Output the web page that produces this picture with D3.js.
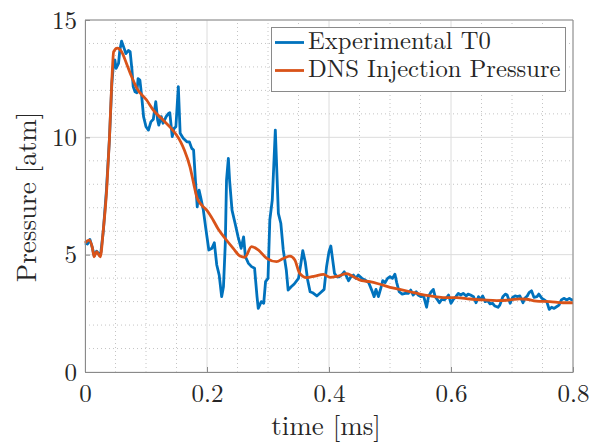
<!DOCTYPE html>
<html>
<head>
<meta charset="utf-8">
<script src="https://cdn.jsdelivr.net/npm/d3@7"></script>
<style>
  body { margin: 0; background: #fff; }
</style>
</head>
<body>
<div id="chart"></div>
<script>
// ===== DATA =====
const expTime = [0, 0.004, 0.008, 0.012, 0.015, 0.019, 0.023, 0.026, 0.030, 0.035, 0.040, 0.044, 0.047, 0.049, 0.051, 0.055, 0.057, 0.060, 0.064, 0.067, 0.071, 0.074, 0.077, 0.079, 0.082, 0.085, 0.087, 0.090, 0.093, 0.096, 0.100, 0.104, 0.108, 0.112, 0.116, 0.119, 0.121, 0.125, 0.128, 0.133, 0.137, 0.139, 0.143, 0.146, 0.149, 0.153, 0.156, 0.161, 0.167, 0.171, 0.175, 0.178, 0.181, 0.184, 0.187, 0.190, 0.194, 0.198, 0.203, 0.208, 0.212, 0.216, 0.220, 0.224, 0.227, 0.230, 0.232, 0.235, 0.237, 0.241, 0.246, 0.251, 0.256, 0.260, 0.263, 0.268, 0.273, 0.278, 0.282, 0.284, 0.289, 0.293, 0.296, 0.300, 0.303, 0.307, 0.312, 0.315, 0.317, 0.321, 0.325, 0.330, 0.333, 0.338, 0.343, 0.350, 0.354, 0.357, 0.361, 0.365, 0.369, 0.373, 0.380, 0.386, 0.392, 0.396, 0.400, 0.403, 0.405, 0.409, 0.413, 0.417, 0.422, 0.425, 0.429, 0.432, 0.436, 0.440, 0.444, 0.448, 0.454, 0.459, 0.465, 0.470, 0.474, 0.477, 0.481, 0.485, 0.488, 0.492, 0.496, 0.500, 0.504, 0.508, 0.511, 0.515, 0.520, 0.525, 0.530, 0.534, 0.538, 0.543, 0.546, 0.551, 0.555, 0.560, 0.563, 0.567, 0.571, 0.574, 0.578, 0.581, 0.585, 0.589, 0.593, 0.596, 0.600, 0.604, 0.608, 0.612, 0.616, 0.620, 0.625, 0.628, 0.632, 0.637, 0.641, 0.645, 0.649, 0.652, 0.656, 0.660, 0.664, 0.668, 0.672, 0.677, 0.680, 0.685, 0.689, 0.692, 0.697, 0.701, 0.705, 0.709, 0.713, 0.718, 0.721, 0.725, 0.728, 0.732, 0.736, 0.741, 0.744, 0.749, 0.753, 0.757, 0.761, 0.765, 0.769, 0.773, 0.777, 0.781, 0.785, 0.790, 0.794, 0.798, 0.800];
const expPressure = [5.50, 5.45, 5.65, 5.30, 4.95, 5.15, 5.00, 5.10, 6.00, 7.70, 9.90, 12.30, 13.20, 13.30, 12.94, 13.15, 13.70, 14.10, 13.80, 13.57, 13.70, 13.65, 12.87, 12.16, 11.94, 11.90, 12.50, 12.44, 11.73, 10.88, 10.45, 10.31, 10.66, 10.77, 11.52, 10.74, 10.52, 10.88, 10.60, 10.88, 11.02, 11.05, 10.03, 10.38, 10.45, 12.16, 10.17, 9.96, 9.81, 9.81, 9.53, 9.46, 8.18, 7.04, 7.75, 7.40, 6.90, 6.12, 5.20, 5.27, 5.51, 4.56, 4.13, 3.21, 3.63, 5.48, 8.18, 9.10, 8.18, 6.90, 6.34, 5.76, 5.27, 5.76, 4.91, 4.63, 4.49, 4.42, 3.21, 2.71, 3.00, 2.93, 3.85, 3.99, 6.48, 7.33, 10.31, 8.18, 6.76, 6.34, 5.20, 4.35, 3.49, 3.63, 3.75, 3.99, 4.63, 5.17, 4.70, 3.92, 3.42, 3.38, 3.24, 3.38, 3.52, 4.49, 5.13, 5.37, 4.98, 4.20, 4.06, 4.06, 4.17, 4.27, 4.06, 3.89, 4.06, 4.13, 3.99, 4.13, 3.99, 3.92, 3.81, 3.49, 3.21, 3.52, 3.21, 3.57, 3.89, 3.81, 3.99, 4.06, 3.99, 4.17, 3.81, 3.42, 3.32, 3.35, 3.35, 3.49, 3.28, 3.42, 3.28, 3.21, 3.24, 2.76, 3.21, 3.40, 3.52, 3.21, 3.07, 2.95, 3.10, 3.07, 3.17, 3.28, 2.93, 3.10, 3.21, 3.35, 3.28, 3.35, 3.24, 3.32, 3.28, 3.21, 2.95, 3.21, 3.10, 3.24, 3.00, 3.04, 2.90, 2.93, 2.81, 2.76, 2.85, 3.21, 3.32, 3.28, 2.93, 3.18, 3.24, 3.21, 3.24, 2.95, 3.14, 3.24, 3.38, 3.46, 3.18, 3.21, 3.32, 3.14, 3.07, 3.00, 2.67, 2.76, 2.71, 2.78, 2.85, 3.07, 3.14, 3.07, 3.14, 3.07, 3.07];

const dnsTime = [0, 0.007, 0.012, 0.015, 0.019, 0.025, 0.030, 0.0355, 0.040, 0.044, 0.047, 0.053, 0.060, 0.068, 0.0765, 0.085, 0.101, 0.112, 0.128, 0.139, 0.150, 0.157, 0.163, 0.172, 0.178, 0.183, 0.191, 0.1995, 0.210, 0.2186, 0.2295, 0.243, 0.254, 0.262, 0.273, 0.284, 0.298, 0.314, 0.325, 0.336, 0.344, 0.352, 0.363, 0.377, 0.391, 0.402, 0.415, 0.429, 0.440, 0.4536, 0.467, 0.4836, 0.500, 0.516, 0.533, 0.549, 0.566, 0.587, 0.609, 0.631, 0.653, 0.675, 0.697, 0.713, 0.724, 0.740, 0.762, 0.784, 0.800];
const dnsPressure = [5.50, 5.62, 5.30, 4.91, 5.13, 4.91, 6.05, 7.75, 9.90, 12.40, 13.65, 13.80, 13.65, 13.15, 12.58, 12.09, 11.59, 11.16, 10.74, 10.45, 10.10, 9.80, 9.45, 8.75, 8.05, 7.47, 7.12, 6.90, 6.48, 6.08, 5.70, 5.27, 4.94, 4.89, 5.34, 5.20, 4.84, 4.70, 4.84, 4.94, 4.77, 4.20, 4.02, 4.09, 4.16, 4.03, 4.09, 4.19, 4.06, 3.89, 3.85, 3.74, 3.61, 3.52, 3.42, 3.32, 3.24, 3.17, 3.17, 3.11, 3.07, 3.04, 3.07, 3.12, 3.10, 3.02, 3.00, 2.95, 2.95];

const xTicks = [0, 0.2, 0.4, 0.6, 0.8];
const yTicks = [0, 5, 10, 15];
const seriesNames = ["Experimental T0", "DNS Injection Pressure"];
const seriesColors = ["#0072BD", "#D95319"];

// ===== LAYOUT =====
const width = 591;
const height = 443;
const margin = { top: 20, right: 18, bottom: 71, left: 85 };
const serif = "'Latin Modern Roman', 'Liberation Serif', serif";

const svg = d3.select("#chart").append("svg")
    .attr("width", width)
    .attr("height", height);

const x = d3.scaleLinear().domain([0, 0.8]).range([margin.left, width - margin.right]);
const y = d3.scaleLinear().domain([0, 15]).range([height - margin.bottom, margin.top]);

// ===== GRID =====
const minorX = d3.range(0, 0.8001, 0.05).filter((d) => !xTicks.some((t) => Math.abs(t - d) < 1e-6));
const minorY = d3.range(0, 15.001, 1).filter((d) => d % 5 !== 0);

svg.append("g").selectAll("line").data(minorX).join("line")
    .attr("x1", (d) => x(d)).attr("x2", (d) => x(d))
    .attr("y1", y(0)).attr("y2", y(15))
    .attr("stroke", "#b5b5b5").attr("stroke-width", 0.8).attr("stroke-dasharray", "1,3");

svg.append("g").selectAll("line").data(minorY).join("line")
    .attr("x1", x(0)).attr("x2", x(0.8))
    .attr("y1", (d) => y(d)).attr("y2", (d) => y(d))
    .attr("stroke", "#b5b5b5").attr("stroke-width", 0.8).attr("stroke-dasharray", "1,3");

svg.append("g").selectAll("line").data(xTicks).join("line")
    .attr("x1", (d) => x(d)).attr("x2", (d) => x(d))
    .attr("y1", y(0)).attr("y2", y(15))
    .attr("stroke", "#dcdcdc").attr("stroke-width", 1);

svg.append("g").selectAll("line").data(yTicks).join("line")
    .attr("x1", x(0)).attr("x2", x(0.8))
    .attr("y1", (d) => y(d)).attr("y2", (d) => y(d))
    .attr("stroke", "#dcdcdc").attr("stroke-width", 1);

// ===== LINES =====
const expData = expTime.map((t, i) => ({ t, p: expPressure[i] }));
const dnsData = dnsTime.map((t, i) => ({ t, p: dnsPressure[i] }));

const line = d3.line().x((d) => x(d.t)).y((d) => y(d.p));

svg.append("path")
    .datum(expData)
    .attr("fill", "none")
    .attr("stroke", seriesColors[0])
    .attr("stroke-width", 2.8)
    .attr("stroke-linejoin", "round")
    .attr("d", line);

svg.append("path")
    .datum(dnsData)
    .attr("fill", "none")
    .attr("stroke", seriesColors[1])
    .attr("stroke-width", 2.8)
    .attr("stroke-linejoin", "round")
    .attr("d", line.curve(d3.curveMonotoneX));

// ===== AXES =====
const xAxis = svg.append("g")
    .attr("transform", `translate(0,${y(0)})`)
    .call(d3.axisBottom(x).tickValues(xTicks).tickSizeInner(-5).tickSizeOuter(0).tickPadding(15)
        .tickFormat((d) => d === 0 ? "0" : d3.format(".1f")(d)));
xAxis.select(".domain").attr("stroke", "#8a8a8a");
xAxis.selectAll(".tick line").attr("stroke", "#8a8a8a");
xAxis.selectAll("text")
    .style("font-family", serif).style("font-size", "25px")
    .attr("fill", "#262626").attr("dy", "0.71em").attr("y", 12);

const yAxis = svg.append("g")
    .attr("transform", `translate(${x(0)},0)`)
    .call(d3.axisLeft(y).tickValues(yTicks).tickSizeInner(-5).tickSizeOuter(0).tickPadding(8));
yAxis.select(".domain").attr("stroke", "#8a8a8a");
yAxis.selectAll(".tick line").attr("stroke", "#8a8a8a");
yAxis.selectAll("text")
    .style("font-family", serif).style("font-size", "25px")
    .attr("fill", "#262626").attr("x", -8);

// top and right box
svg.append("line").attr("x1", x(0)).attr("x2", x(0.8)).attr("y1", y(15)).attr("y2", y(15)).attr("stroke", "#8a8a8a");
svg.append("line").attr("x1", x(0.8)).attr("x2", x(0.8)).attr("y1", y(0)).attr("y2", y(15)).attr("stroke", "#8a8a8a");

// axis titles
svg.append("text")
    .attr("x", (x(0) + x(0.8)) / 2 - 3)
    .attr("y", 435)
    .attr("text-anchor", "middle")
    .style("font-family", serif).style("font-size", "27px")
    .attr("fill", "#262626")
    .text("time [ms]");

svg.append("text")
    .attr("transform", `translate(36,${(y(0) + y(15)) / 2 + 1}) rotate(-90)`)
    .attr("text-anchor", "middle")
    .style("font-family", serif).style("font-size", "27px")
    .attr("fill", "#262626")
    .text("Pressure [atm]");

// ===== LEGEND =====
const legend = svg.append("g");
legend.append("rect")
    .attr("x", 271.5).attr("y", 27.5).attr("width", 294).attr("height", 64)
    .attr("fill", "#fff").attr("stroke", "#8a8a8a");

seriesNames.forEach((name, i) => {
    const ly = 42.5 + i * 28;
    legend.append("line")
        .attr("x1", 275).attr("x2", 304).attr("y1", ly).attr("y2", ly)
        .attr("stroke", seriesColors[i]).attr("stroke-width", 2.8);
    legend.append("text")
        .attr("x", 308).attr("y", ly + 6.5)
        .style("font-family", serif).style("font-size", "24.6px")
        .attr("fill", "#262626")
        .text(name);
});
</script>
</body>
</html>
